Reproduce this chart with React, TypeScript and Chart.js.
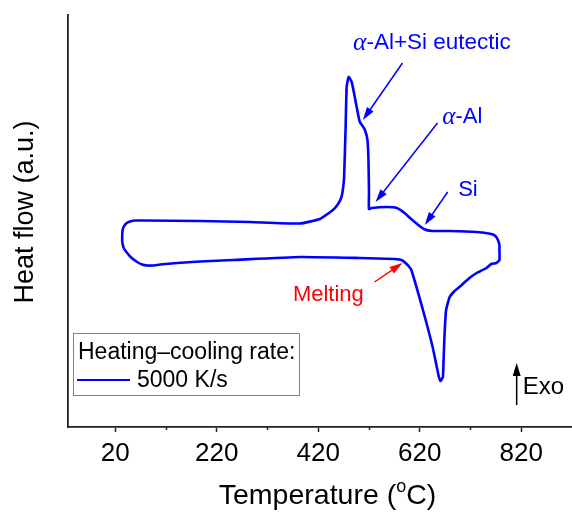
import React, { useEffect, useRef } from 'react';
import { Chart, registerables } from 'chart.js';

Chart.register(...registerables);

// Heating–cooling loop, 5000 K/s (temperature in °C, heat flow in a.u.)
const temperature = [
  33.8, 36.7, 43.6, 51.5, 63.3, 73.1, 83, 92.8, 108.5, 142, 187, 252, 384, 502,
  570.6, 580, 586, 592, 598, 603.5, 626.3, 645.4, 657.8, 661, 665.6, 667, 669,
  672, 679, 688.6, 698, 718, 732, 738, 751.6, 761, 771, 777, 777, 777, 774,
  769, 761, 732, 679, 645, 628, 610, 590, 575, 555, 525, 520, 520, 519, 517,
  512, 506, 502, 498, 492, 486, 480, 476, 474, 471, 469, 465.8, 459.1, 449,
  423, 384, 285.5, 187, 75, 59.3, 49.5, 41.6, 36.5, 34.7, 33.8, 33.8,
];
const heatFlow = [
  18.5, 17.9, 17.4, 16.95, 16.5, 16.25, 16.15, 16.15, 16.25, 16.4, 16.55, 16.7, 17.0, 16.9,
  16.8, 16.75, 16.65, 16.4, 16.1, 15.7, 11.7, 8.0, 5.0, 4.6, 5.0, 6.7, 9.4,
  11.7, 13.0, 13.6, 14.0, 14.9, 15.4, 15.55, 15.9, 16.3, 16.4, 16.7, 17.7, 18.2, 18.7,
  19.1, 19.3, 19.5, 19.6, 19.6, 19.8, 20.5, 21.4, 21.9, 22.0, 21.9, 21.8, 23.4, 26.7, 28.7,
  29.7, 30.2, 30.5, 31.4, 33.0, 34.5, 35.0, 34.0, 30.0, 25.0, 23.9, 23.0, 22.3, 21.7,
  20.8, 20.35, 20.5, 20.6, 20.65, 20.65, 20.55, 20.35, 20.0, 19.7, 19.1, 18.5,
];

const majorTicks = [20, 220, 420, 620, 820];
const minorTicks = [120, 320, 520, 720];
const xMin = -73;
const xMax = 920;
const yMin = 0;
const yMax = 41.2;

const seriesLabel = '5000 K/s';
const legendTitle = 'Heating\u2013cooling rate:';
const xTitle = ['Temperature (', 'o', 'C)'];
const yTitle = 'Heat flow (a.u.)';

const FONT = '"Liberation Sans", Arial, sans-serif';
const BLUE = '#0000ff';

function drawArrow(ctx: CanvasRenderingContext2D, x1: number, y1: number, x2: number, y2: number, color: string) {
  const ang = Math.atan2(y2 - y1, x2 - x1);
  const hl = 13;
  const hw = 4;
  ctx.save();
  ctx.strokeStyle = color;
  ctx.fillStyle = color;
  ctx.lineWidth = 1.5;
  ctx.beginPath();
  ctx.moveTo(x1, y1);
  ctx.lineTo(x2 - Math.cos(ang) * hl * 0.8, y2 - Math.sin(ang) * hl * 0.8);
  ctx.stroke();
  ctx.beginPath();
  ctx.moveTo(x2, y2);
  ctx.lineTo(x2 - Math.cos(ang) * hl + Math.sin(ang) * hw, y2 - Math.sin(ang) * hl - Math.cos(ang) * hw);
  ctx.lineTo(x2 - Math.cos(ang) * hl - Math.sin(ang) * hw, y2 - Math.sin(ang) * hl + Math.cos(ang) * hw);
  ctx.closePath();
  ctx.fill();
  ctx.restore();
}

// text parts: [text, italicSerif]
function drawParts(ctx: CanvasRenderingContext2D, parts: [string, boolean][], cx: number, cy: number, size: number, color: string) {
  const fonts = parts.map(([, it]) => (it ? `italic ${size + 3}px "Liberation Serif", serif` : `${size}px ${FONT}`));
  let total = 0;
  const widths = parts.map(([t], i) => {
    ctx.font = fonts[i];
    const w = ctx.measureText(t).width;
    total += w;
    return w;
  });
  let x = cx - total / 2;
  ctx.fillStyle = color;
  ctx.textBaseline = 'middle';
  ctx.textAlign = 'left';
  parts.forEach(([t], i) => {
    ctx.font = fonts[i];
    ctx.fillText(t, x, cy);
    x += widths[i];
  });
}

const overlay = {
  id: 'overlay',
  afterDraw(chart: any) {
    const { ctx, chartArea, scales } = chart;
    const xs = scales.x;
    const ys = scales.y;
    const X = (v: number) => xs.getPixelForValue(v);
    const Y = (v: number) => ys.getPixelForValue(v);
    ctx.save();

    // minor ticks
    ctx.strokeStyle = '#222';
    ctx.lineWidth = 1.5;
    minorTicks.forEach((v) => {
      const px = Math.round(X(v)) + 0.5;
      ctx.beginPath();
      ctx.moveTo(px, chartArea.bottom);
      ctx.lineTo(px, chartArea.bottom + 3);
      ctx.stroke();
    });

    // annotations
    drawParts(ctx, [['\u03b1', true], ['-Al+Si eutectic', false]], X(644), Y(38.4), 22.5, BLUE);
    drawArrow(ctx, X(586), Y(36.4), X(508), Y(30.7), BLUE);
    drawParts(ctx, [['\u03b1', true], ['-Al', false]], X(704), Y(31.0), 22, BLUE);
    drawArrow(ctx, X(655), Y(30.4), X(533), Y(22.5), BLUE);
    drawParts(ctx, [['Si', false]], X(715), Y(23.7), 22, BLUE);
    drawArrow(ctx, X(675), Y(23.5), X(630), Y(20.2), BLUE);
    drawParts(ctx, [['Melting', false]], X(440), Y(13.2), 22, '#ff0000');
    drawArrow(ctx, X(531), Y(14.5), X(586), Y(16.4), '#ff0000');
    drawArrow(ctx, X(811), Y(2.2), X(811), Y(6.4), '#000');
    ctx.font = `24px ${FONT}`;
    ctx.fillStyle = '#000';
    ctx.textAlign = 'left';
    ctx.textBaseline = 'middle';
    ctx.fillText('Exo', X(823), Y(4.0));

    // legend
    ctx.strokeStyle = '#808080';
    ctx.lineWidth = 1;
    ctx.strokeRect(73.5, 333.5, 226, 62);
    ctx.font = `23px ${FONT}`;
    ctx.fillStyle = '#000';
    ctx.fillText(legendTitle, 78, 353);
    ctx.strokeStyle = BLUE;
    ctx.lineWidth = 2;
    ctx.beginPath();
    ctx.moveTo(77, 380);
    ctx.lineTo(130, 380);
    ctx.stroke();
    ctx.fillText(seriesLabel, 137, 381);

    // x title with superscript
    const big = `28.5px ${FONT}`;
    const small = `18px ${FONT}`;
    ctx.font = big;
    const w1 = ctx.measureText(xTitle[0]).width;
    const w3 = ctx.measureText(xTitle[2]).width;
    ctx.font = small;
    const w2 = ctx.measureText(xTitle[1]).width;
    let tx = 327.5 - (w1 + w2 + w3) / 2;
    const ty = 496;
    ctx.fillStyle = '#000';
    ctx.font = big;
    ctx.fillText(xTitle[0], tx, ty);
    tx += w1;
    ctx.font = small;
    ctx.fillText(xTitle[1], tx, ty - 9);
    tx += w2;
    ctx.font = big;
    ctx.fillText(xTitle[2], tx, ty);

    // y title
    ctx.save();
    ctx.translate(26, 212);
    ctx.rotate(-Math.PI / 2);
    ctx.font = `27px ${FONT}`;
    ctx.textAlign = 'center';
    ctx.fillText(yTitle, 0, 0);
    ctx.restore();

    ctx.restore();
  },
};

export default function App() {
  const ref = useRef<HTMLCanvasElement | null>(null);
  useEffect(() => {
    if (!ref.current) return;
    const points = temperature.map((t, i) => ({ x: t, y: heatFlow[i] }));
    const chart = new Chart(ref.current, {
      type: 'scatter',
      data: {
        datasets: [
          {
            label: seriesLabel,
            data: points,
            showLine: true,
            borderColor: BLUE,
            borderWidth: 2.6,
            borderJoinStyle: 'round',
            pointRadius: 0,
            tension: 0.15,
            fill: false,
          },
        ],
      },
      options: {
        responsive: false,
        animation: false,
        devicePixelRatio: 1,
        layout: { padding: { top: 15, left: 0, right: 0, bottom: 0 } },
        plugins: { legend: { display: false }, tooltip: { enabled: false } },
        scales: {
          x: {
            type: 'linear',
            min: xMin,
            max: xMax,
            afterBuildTicks: (s: any) => {
              s.ticks = [...majorTicks, ...minorTicks].sort((a, b) => a - b).map((v) => ({ value: v }));
            },
            afterFit: (s: any) => {
              s.height = 85;
            },
            ticks: {
              color: '#000',
              font: { family: FONT, size: 26 },
              padding: 6,
              maxRotation: 0,
              autoSkip: false,
              callback: (v: any) => (majorTicks.includes(Number(v)) ? String(v) : ''),
            },
            grid: {
              display: true,
              drawOnChartArea: false,
              drawTicks: true,
              tickLength: 5,
              tickWidth: 1.5,
              tickColor: (c: any) => (c.tick && majorTicks.includes(c.tick.value) ? '#222' : 'rgba(0,0,0,0)'),
            },
            border: { display: true, color: '#222', width: 1.8 },
          },
          y: {
            type: 'linear',
            min: yMin,
            max: yMax,
            afterFit: (s: any) => {
              s.width = 68;
            },
            ticks: { display: false },
            grid: { display: false },
            border: { display: true, color: '#222', width: 1.8 },
          },
        },
      },
      plugins: [overlay],
    });
    return () => chart.destroy();
  }, []);
  return (
    <div style={{ position: 'absolute', left: 0, top: 0, width: 572, height: 512, background: '#fff' }}>
      <canvas ref={ref} width={572} height={512} />
    </div>
  );
}
